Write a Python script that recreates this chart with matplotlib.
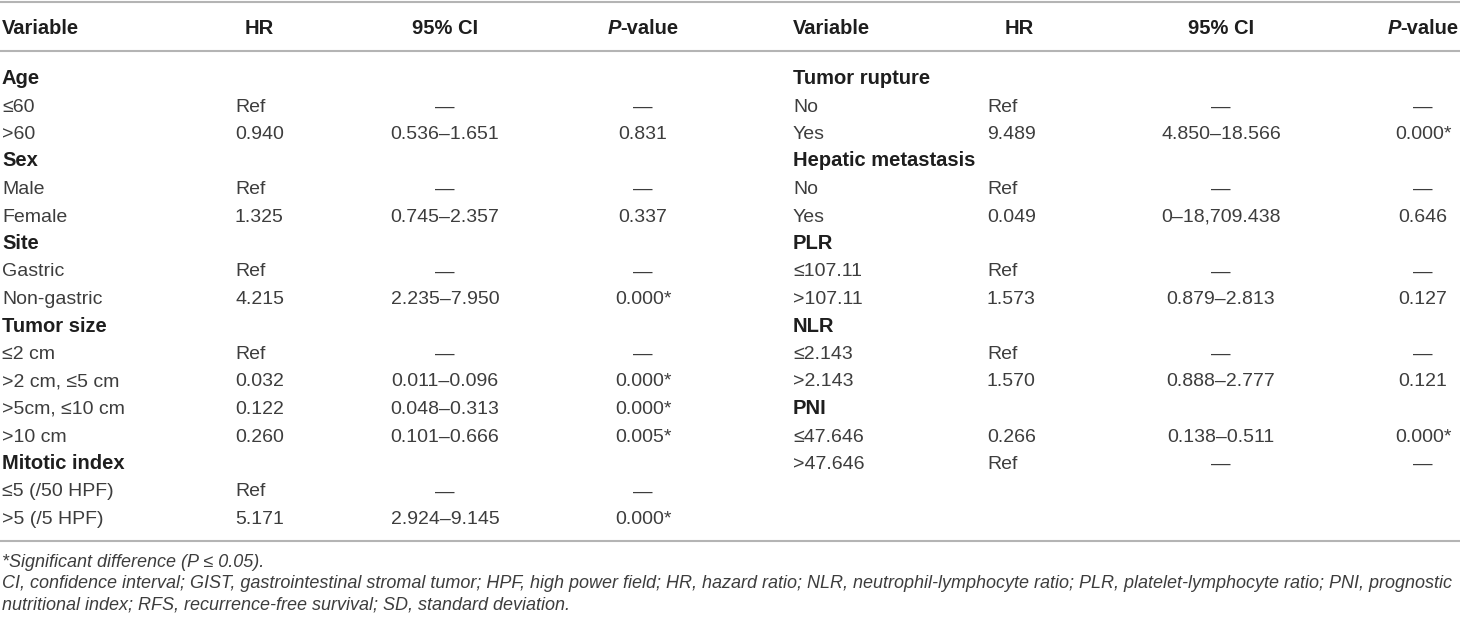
import matplotlib
matplotlib.use("Agg")
import matplotlib.pyplot as plt

# left half of the table
left_var = ["Age", "≤60", ">60", "Sex", "Male", "Female", "Site", "Gastric",
            "Non-gastric", "Tumor size", "≤2 cm", ">2 cm, ≤5 cm", ">5cm, ≤10 cm",
            ">10 cm", "Mitotic index", "≤5 (/50 HPF)", ">5 (/5 HPF)"]
left_hr = [None, "Ref", "0.940", None, "Ref", "1.325", None, "Ref", "4.215",
           None, "Ref", "0.032", "0.122", "0.260", None, "Ref", "5.171"]
left_ci = [None, "—", "0.536–1.651", None, "—", "0.745–2.357", None, "—",
           "2.235–7.950", None, "—", "0.011–0.096", "0.048–0.313", "0.101–0.666",
           None, "—", "2.924–9.145"]
left_p = [None, "—", "0.831", None, "—", "0.337", None, "—", "0.000*", None,
          "—", "0.000*", "0.000*", "0.005*", None, "—", "0.000*"]

# right half of the table
right_var = ["Tumor rupture", "No", "Yes", "Hepatic metastasis", "No", "Yes",
             "PLR", "≤107.11", ">107.11", "NLR", "≤2.143", ">2.143", "PNI",
             "≤47.646", ">47.646"]
right_hr = [None, "Ref", "9.489", None, "Ref", "0.049", None, "Ref", "1.573",
            None, "Ref", "1.570", None, "0.266", "Ref"]
right_ci = [None, "—", "4.850–18.566", None, "—", "0–18,709.438", None, "—",
            "0.879–2.813", None, "—", "0.888–2.777", None, "0.138–0.511", "—"]
right_p = [None, "—", "0.000*", None, "—", "0.646", None, "—", "0.127", None,
           "—", "0.121", None, "0.000*", "—"]

footnotes = [
    "*Significant difference (P ≤ 0.05).",
    "CI, confidence interval; GIST, gastrointestinal stromal tumor; HPF, high power field; "
    "HR, hazard ratio; NLR, neutrophil-lymphocyte ratio; PLR, platelet-lymphocyte ratio; PNI, prognostic",
    "nutritional index; RFS, recurrence-free survival; SD, standard deviation.",
]

W, H = 1460, 621
FONT = "Liberation Sans"
FS = 14
HFS = 14.5
BODY = "#3d3d3d"
HEAD = "#1e1e1e"
RULE = "#b4b4b4"

fig = plt.figure(figsize=(W / 100, H / 100), dpi=100)
ax = fig.add_axes([0, 0, 1, 1])
ax.set_xlim(0, W)
ax.set_ylim(H, 0)
ax.axis("off")

# horizontal rules
for y in (1.5, 51, 541):
    ax.plot([0, W], [y, y], color=RULE, lw=1.5, solid_capstyle="butt")

HEAD_Y = 27
ROW0 = 77
STEP = 27.5
CAP = 7  # half cap height, for baseline placement


def ptext(xc, y):
    # "P-value" header with italic P, centred at xc
    t1 = ax.text(0, 0, "P", fontsize=HFS, fontweight="bold", style="italic",
                 family=FONT, color=HEAD)
    t2 = ax.text(0, 0, "-value", fontsize=HFS, fontweight="bold",
                 family=FONT, color=HEAD)
    r = fig.canvas.get_renderer()
    w1 = t1.get_window_extent(r).width
    w2 = t2.get_window_extent(r).width
    x0 = xc - (w1 + w2) / 2
    t1.set_position((x0, y + CAP))
    t2.set_position((x0 + w1, y + CAP))
    t1.set_va("baseline")
    t2.set_va("baseline")


def draw_half(var, hr, ci, p, xv, xhr, xhr_head, xci, xp):
    ax.text(xv, HEAD_Y + CAP, "Variable", fontsize=HFS, fontweight="bold",
            family=FONT, color=HEAD, va="baseline")
    ax.text(xhr_head, HEAD_Y + CAP, "HR", fontsize=HFS, fontweight="bold",
            family=FONT, color=HEAD, va="baseline", ha="center")
    ax.text(xci, HEAD_Y + CAP, "95% CI", fontsize=HFS, fontweight="bold",
            family=FONT, color=HEAD, va="baseline", ha="center")
    ptext(xp, HEAD_Y)
    for i, name in enumerate(var):
        y = ROW0 + i * STEP + CAP
        if hr[i] is None:
            ax.text(xv, y, name, fontsize=HFS, fontweight="bold", family=FONT,
                    color=HEAD, va="baseline")
            continue
        ax.text(xv, y, name, fontsize=FS, family=FONT, color=BODY, va="baseline")
        ax.text(xhr, y, hr[i], fontsize=FS, family=FONT, color=BODY, va="baseline")
        ax.text(xci, y, ci[i], fontsize=FS, family=FONT, color=BODY,
                va="baseline", ha="center")
        ax.text(xp, y, p[i], fontsize=FS, family=FONT, color=BODY,
                va="baseline", ha="center")


draw_half(left_var, left_hr, left_ci, left_p, 2, 235, 259, 445, 643)
draw_half(right_var, right_hr, right_ci, right_p, 793, 987, 1019, 1221, 1423)

for i, line in enumerate(footnotes):
    ax.text(2, 561 + i * 21 + 6, line, fontsize=13.0, style="italic",
            family=FONT, color=BODY, va="baseline")

fig.savefig("out.png", dpi=100)
